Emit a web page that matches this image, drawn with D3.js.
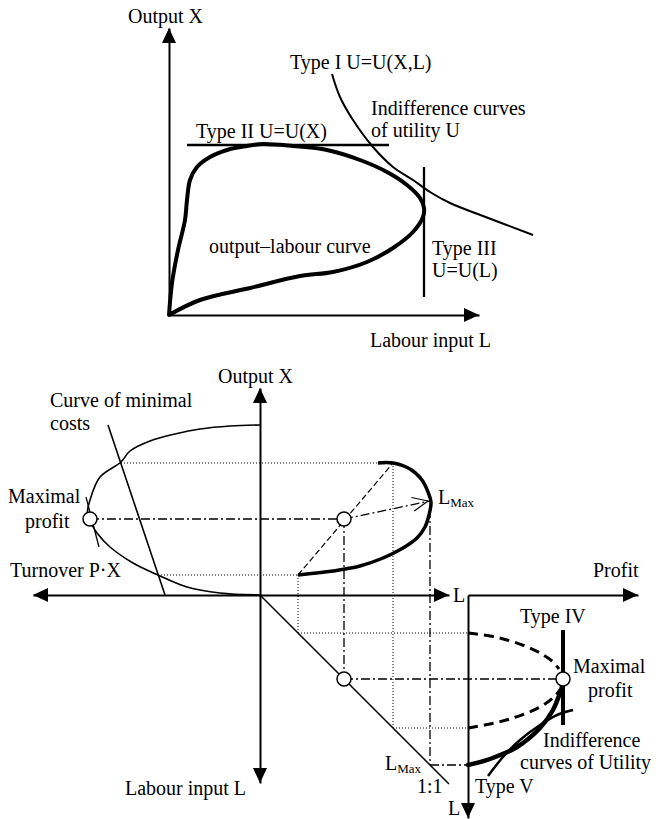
<!DOCTYPE html>
<html><head><meta charset="utf-8">
<script src="https://cdn.jsdelivr.net/npm/d3@7"></script>
<style>
body{margin:0;background:#fff}
svg text{font-family:"Liberation Serif","Times New Roman",serif;font-size:20px;fill:#000}
</style>
</head><body><svg id="c" width="659" height="819"></svg>
<script>
// ---------- TOP PANEL DATA: [labour L, output X] ----------
const outputLabourCurve = [[0,0],[0.3,3.2],[0.9,6.5],[1.6,9.5],[1.8,11.5],[2.1,13.5],[2.8,14.8],[4.1,15.8],[5.8,16.5],[7.8,16.9],[9.4,17.1],[12.4,16.9],[15.8,16.5],[19.1,15.5],[21.8,14.3],[23.8,13.0],[25.1,11.7],[25.5,10.7],[25.4,9.8],[24.4,8.3],[22.4,6.7],[19.8,5.3],[16.4,4.3],[13.1,3.9],[8.1,2.7],[3.1,1.5],[0,0]];
const typeIIUtility = [[1.8,17.0],[22.0,17.0]];
const typeIIIUtility = [[25.5,14.8],[25.5,1.8]];
const typeIUtility = [[16.3,24.1],[17.1,21.8],[18.4,19.5],[20.4,16.8],[22.4,14.8],[24.4,13.5],[26.1,12.3],[28.1,11.2],[31.4,9.9],[36.4,8.0]];
const topAxisMax = [31, 28.7];

// ---------- BOTTOM PANEL DATA ----------
// turnover curve: [turnover (negative = left), output X]
const turnoverCurve = [[0,17.0],[-3.0,16.9],[-6.0,16.6],[-8.5,16.1],[-11.0,15.4],[-13.0,14.4],[-13.9,13.3],[-16.0,11.8],[-17.0,9.5],[-17.25,8.3],[-17.0,7.4],[-16.3,6.2],[-15.0,4.8],[-12.7,3.2],[-10.2,2.0],[-7.3,0.8],[-4.0,0.2],[0,0]];
const minimalCostLine = [[-15.2,17.0],[-9.5,0]];
const maxProfitTangent = [[-17.4,9.8],[-16.1,4.8]];
// production curve in quadrant I: [L, X]
const productionCurve = [[11.8,13.2],[13.3,13.2],[15.0,12.6],[16.2,11.5],[16.8,10.3],[17.1,9.3],[16.9,8.0],[16.5,6.8],[15.7,5.7],[14.3,4.7],[12.3,3.7],[10.0,2.9],[7.3,2.4],[3.8,2.0]];
// key points
const lowL = 3.8, lowX = 2.0, highL = 13.3, highX = 13.2;
const optL = 8.4, optX = 7.6, maxL = 17.0, maxX = 9.4;
const leftProfitTurnover = -17.0, minCostTurnoverHigh = -13.9, minCostTurnoverLow = -10.2;
const maxProfitValue = 9.5;
const diagonalEnd = 18.9;
// profit panel: [profit, L]
const profitUpperDashed = [[0,3.8],[2.2,4.1],[3.9,4.5],[5.7,5.1],[7.2,5.8],[8.4,6.6],[9.1,7.4]];
const profitLowerDashed = [[0,13.3],[2.2,12.9],[4.5,12.3],[7.2,11.2],[8.5,10.3],[9.2,9.5]];
const profitThick = [[0,17.0],[2.2,16.4],[4.9,15.2],[7.2,13.3],[8.5,11.5],[9.2,9.8],[9.45,9.0]];
const typeVCurve = [[2.0,18.1],[3.5,16.2],[5.2,14.5],[7.2,13.0],[8.9,12.0],[10.5,11.5]];
const typeIVLine = [[9.5,3.5],[9.5,13.0]];
const bottomAxisExtent = {turnover:-22.7, labourRight:18.9, output:20.7, labourDown:18.8, profit:17.0, profitLabour:22.3};

// ---------- SCALES ----------
const svg = d3.select("#c");
const xT = d3.scaleLinear().domain([0, topAxisMax[0]]).range([169, 479]);
const yT = d3.scaleLinear().domain([0, topAxisMax[1]]).range([315, 28]);
const xB = d3.scaleLinear().domain([bottomAxisExtent.turnover, bottomAxisExtent.labourRight]).range([33, 449]);
const yB = d3.scaleLinear().domain([0, bottomAxisExtent.output]).range([595, 388]);
const yD = d3.scaleLinear().domain([0, bottomAxisExtent.labourDown]).range([595, 783]);
const xP = d3.scaleLinear().domain([0, bottomAxisExtent.profit]).range([468, 638]);
const yDP = d3.scaleLinear().domain([0, bottomAxisExtent.profitLabour]).range([595, 818]);

function drawPath(data, xs, ys, opts, curved) {
  const ln = d3.line().x(d => xs(d[0])).y(d => ys(d[1]));
  if (curved) ln.curve(d3.curveCatmullRom.alpha(0.5));
  const p = svg.append("path").attr("d", ln(data)).attr("fill", "none").attr("stroke", "#000")
    .attr("stroke-width", opts.w || 1.5).attr("stroke-linecap", opts.cap || "butt").attr("stroke-linejoin","round");
  if (opts.dash) p.attr("stroke-dasharray", opts.dash);
  return p;
}
function seg(x1, y1, x2, y2, opts) {
  const p = svg.append("line").attr("x1", x1).attr("y1", y1).attr("x2", x2).attr("y2", y2)
    .attr("stroke", "#000").attr("stroke-width", opts.w || 1);
  if (opts.dash) p.attr("stroke-dasharray", opts.dash);
}
function arrowHead(tx, ty, dx, dy) {
  const L = 15, W = 7;
  const bx = tx - dx * L, by = ty - dy * L;
  const px = -dy, py = dx;
  svg.append("path").attr("d", `M${tx},${ty}L${bx + px * W},${by + py * W}L${bx - px * W},${by - py * W}Z`).attr("fill", "#000");
}
function axisLine(gen, tx, ty) {
  const g = svg.append("g").attr("transform", `translate(${tx},${ty})`).call(gen.tickValues([]).tickSizeOuter(0));
  g.select(".domain").attr("stroke-width", 2);
}
function text(x, y, s, anchor) {
  return svg.append("text").attr("x", x).attr("y", y).attr("text-anchor", anchor || "start").text(s);
}
function circle(cx, cy) {
  svg.append("circle").attr("cx", cx).attr("cy", cy).attr("r", 7).attr("fill", "#fff").attr("stroke", "#000").attr("stroke-width", 1.5);
}

const DOT = "1,2", DASHDOT = "9,3,2,3", DASH = "6,3";

// ---------- TOP PANEL ----------
axisLine(d3.axisBottom(xT), 0, yT(0));
axisLine(d3.axisLeft(yT), xT(0), 0);
arrowHead(xT(topAxisMax[0]), yT(0), 1, 0);
arrowHead(xT(0), yT(topAxisMax[1]), 0, -1);
drawPath(typeIIUtility, xT, yT, {w: 2.3});
drawPath(typeIIIUtility, xT, yT, {w: 2.3});
drawPath(typeIUtility, xT, yT, {w: 2}, true);
drawPath(outputLabourCurve, xT, yT, {w: 4, cap: "round"}, true);

text(128, 23, "Output X");
text(290, 69, "Type I U=U(X,L)");
text(371, 115, "Indifference curves");
text(371, 137, "of utility U");
text(196, 138, "Type II U=U(X)");
text(209, 253, "output\u2013labour curve");
text(432, 255, "Type III");
text(432, 277, "U=U(L)");
text(370, 347, "Labour input L");

// ---------- BOTTOM PANEL ----------
// dotted guide lines
seg(xB(minCostTurnoverHigh), yB(highX), xB(highL), yB(highX), {dash: DOT});
seg(xB(minCostTurnoverLow), yB(lowX), xB(lowL), yB(lowX), {dash: DOT});
seg(xB(lowL), yB(lowX), xB(lowL), yD(lowL), {dash: DOT});
seg(xB(highL), yB(highX), xB(highL), yD(highL), {dash: DOT});
seg(xB(lowL), yD(lowL), xP(0), yD(lowL), {dash: DOT});
seg(xB(highL), yD(highL), xP(0), yD(highL), {dash: DOT});
// dash-dot lines
seg(xB(leftProfitTurnover), yB(optX), xB(optL), yB(optX), {dash: DASHDOT, w: 1.3});
seg(xB(optL), yB(optX), xB(maxL), yB(maxX), {dash: DASHDOT, w: 1.3});
seg(xB(optL), yB(optX), xB(optL), yD(optL), {dash: DASHDOT, w: 1.3});
seg(xB(optL), yD(optL), xP(maxProfitValue), yD(optL), {dash: DASHDOT, w: 1.3});
seg(xB(maxL), yB(maxX) + 8, xB(maxL), yD(maxL), {dash: DASHDOT, w: 1.3});
seg(xB(maxL), yD(maxL), xP(0), yD(maxL), {dash: DASHDOT, w: 1.3});
// open arrow head to L_Max
(function(){
  const tx = xB(maxL) - 2, ty = yB(maxX);
  const ang = Math.atan2(ty - yB(optX), tx - xB(optL));
  [0.42, -0.42].forEach(a => {
    seg(tx, ty, tx - 17 * Math.cos(ang + a), ty - 17 * Math.sin(ang + a), {w: 1.2});
  });
})();
// dashed line through optimum
seg(xB(lowL), yB(lowX), xB(highL), yB(highX), {dash: DASH, w: 1.2});

// axes
axisLine(d3.axisBottom(xB), 0, yB(0));
axisLine(d3.axisLeft(yB), xB(0), 0);
axisLine(d3.axisLeft(yD), xB(0), 0);
arrowHead(xB(bottomAxisExtent.turnover), yB(0), -1, 0);
arrowHead(xB(bottomAxisExtent.labourRight), yB(0), 1, 0);
arrowHead(xB(0), yB(bottomAxisExtent.output), 0, -1);
arrowHead(xB(0), yD(bottomAxisExtent.labourDown), 0, 1);
axisLine(d3.axisBottom(xP), 0, yDP(0));
axisLine(d3.axisLeft(yDP), xP(0), 0);
arrowHead(xP(bottomAxisExtent.profit), yDP(0), 1, 0);
arrowHead(xP(0), yDP(bottomAxisExtent.profitLabour), 0, 1);

// curves
drawPath(turnoverCurve, xB, yB, {w: 1.6}, true);
drawPath(minimalCostLine, xB, yB, {w: 1.6});
drawPath(maxProfitTangent, xB, yB, {w: 1.3});
drawPath(productionCurve, xB, yB, {w: 3.5}, true);
drawPath([[0,0],[diagonalEnd,diagonalEnd]], xB, yD, {w: 1.5});
drawPath(profitUpperDashed, xP, yDP, {w: 3, dash: "10,6"}, true);
drawPath(profitLowerDashed, xP, yDP, {w: 3, dash: "10,6"}, true);
drawPath(typeVCurve, xP, yDP, {w: 2.5}, true);
drawPath(profitThick, xP, yDP, {w: 4.5, cap: "round"}, true);
drawPath(typeIVLine, xP, yDP, {w: 4});

// circles
circle(xB(leftProfitTurnover), yB(optX));
circle(xB(optL), yB(optX));
circle(xB(optL), yD(optL));
circle(xP(maxProfitValue), yDP(optL));

// labels
text(218, 383, "Output X");
text(50, 407, "Curve of minimal");
text(50, 430, "costs");
text(8, 503, "Maximal");
text(25, 528, "profit");
text(10, 577, "Turnover P\u00B7X");
text(593, 577, "Profit");
text(453, 602, "L");
const lm1 = text(438, 504, "L"); lm1.append("tspan").attr("font-size", 13).attr("dy", 3).text("Max");
text(520, 623, "Type IV");
text(573, 673, "Maximal");
text(588, 697, "profit");
text(543, 747, "Indifference");
text(520, 769, "curves of Utility");
const lm2 = text(385, 770, "L"); lm2.append("tspan").attr("font-size", 13).attr("dy", 3).text("Max");
text(417, 793, "1:1");
text(475, 793, "Type V");
text(125, 795, "Labour input L");
text(448, 815, "L");
</script>
</body></html>
